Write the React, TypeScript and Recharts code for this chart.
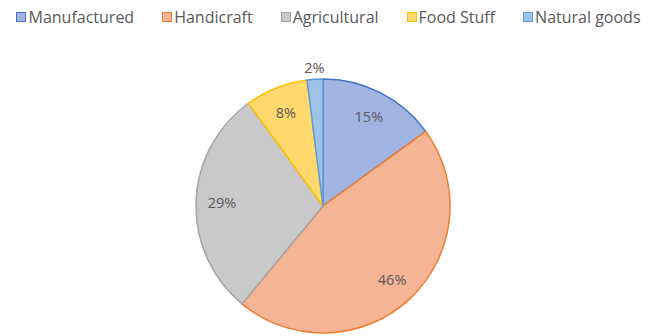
import React from "react";
import { PieChart, Pie, Cell } from "recharts";

const categories = ["Manufactured", "Handicraft", "Agricultural", "Food Stuff", "Natural goods"];
const values = [15, 46, 29, 8, 2];
const fills = ["#A2B4E2", "#F5B493", "#C9C9C9", "#FFD86E", "#9FC4E8"];
const strokes = ["#4472C4", "#ED7D31", "#A5A5A5", "#FFC000", "#5B9BD5"];

const data = categories.map((name, i) => ({ name, value: values[i] }));

const FONT = "'Open Sans', Lato, sans-serif";
const RAD = Math.PI / 180;

const renderLabel = (props: any) => {
  const { cx, cy, midAngle, outerRadius, percent } = props;
  const r = percent < 0.05 ? outerRadius + 12 : outerRadius * 0.795;
  const x = cx + r * Math.cos(-midAngle * RAD);
  const y = cy + r * Math.sin(-midAngle * RAD);
  return (
    <text
      x={x}
      y={y}
      fill="#595959"
      fontSize={14.5}
      fontFamily={FONT}
      textAnchor="middle"
      dominantBaseline="central"
    >
      {`${Math.round(percent * 100)}%`}
    </text>
  );
};

const LegendBox = () => (
  <div
    style={{
      position: "absolute",
      top: 8,
      left: 0,
      width: 657,
      display: "flex",
      justifyContent: "center",
      fontFamily: FONT,
      fontSize: 16,
      lineHeight: "18px",
      color: "#595959",
      whiteSpace: "nowrap",
    }}
  >
    {categories.map((c, i) => (
      <div key={c} style={{ display: "flex", alignItems: "center", marginRight: i < categories.length - 1 ? 28 : 0 }}>
        <span
          style={{
            display: "inline-block",
            width: 8,
            height: 8,
            background: fills[i],
            border: `1.5px solid ${strokes[i]}`,
            marginRight: 2,
          }}
        />
        <span>{c}</span>
      </div>
    ))}
  </div>
);

export default function App() {
  return (
    <div style={{ position: "absolute", left: 0, top: 0, width: 657, height: 336, background: "#fff" }}>
      <PieChart width={657} height={336} margin={{ top: 0, right: 0, bottom: 0, left: 0 }}>
        <Pie
          data={data}
          dataKey="value"
          nameKey="name"
          cx={323}
          cy={206}
          outerRadius={127}
          startAngle={90}
          endAngle={-270}
          label={renderLabel}
          labelLine={false}
          isAnimationActive={false}
        >
          {data.map((d, i) => (
            <Cell key={d.name} fill={fills[i]} stroke={strokes[i]} strokeWidth={1.5} />
          ))}
        </Pie>
      </PieChart>
      <LegendBox />
    </div>
  );
}
